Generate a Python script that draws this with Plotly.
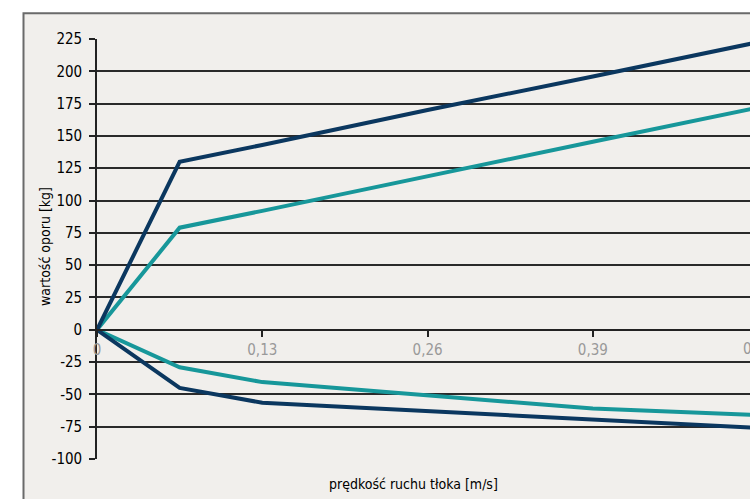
import plotly.graph_objects as go

speed = [0, 0.065, 0.13, 0.26, 0.39, 0.52]
upper_dark = [0, 130, 143, 170, 196, 222.5]
upper_teal = [0, 79, 92, 119, 145.5, 172]
lower_teal = [0, -29, -40.5, -51, -61, -66]
lower_dark = [0, -45, -56.5, -63, -69.5, -76]

x_tickvals = [0, 0.13, 0.26, 0.39]
x_ticktext = ["0", "0,13", "0,26", "0,39"]
x_last_val, x_last_text = 0.52, "0,52"
y_tickvals = list(range(-100, 226, 25))
y_ticktext = [str(v) for v in y_tickvals]

DARK = "#0b375f"
TEAL = "#17979a"
FONT = "DejaVu Sans Condensed, Liberation Sans Narrow, DejaVu Sans, sans-serif"
X_MAX = 0.5136


def fnt(size, color):
    return dict(family=FONT, size=size, color=color)


fig = go.Figure()
for ys, c in [(upper_teal, TEAL), (lower_teal, TEAL), (upper_dark, DARK), (lower_dark, DARK)]:
    fig.add_trace(go.Scatter(x=speed, y=ys, mode="lines",
                             line=dict(color=c, width=4), showlegend=False,
                             hoverinfo="skip", cliponaxis=True))

L, T, B = 97, 39.3, 40.3
H = 499 - T - B

fig.update_layout(
    width=750, height=499,
    margin=dict(l=L, r=0, t=T, b=B),
    paper_bgcolor="white",
    plot_bgcolor="rgba(0,0,0,0)",
    font=fnt(15, "black"),
    xaxis=dict(range=[0, X_MAX], tickvals=x_tickvals, ticktext=x_ticktext,
               anchor="free", position=100 / 325,
               showline=True, linecolor="#222", linewidth=1.6,
               ticks="outside", ticklen=6, tickcolor="#222", tickwidth=1.5,
               showgrid=False, zeroline=False,
               tickfont=fnt(15, "#999999")),
    yaxis=dict(range=[-100, 225], tickvals=y_tickvals, ticktext=y_ticktext,
               showline=True, linecolor="#222", linewidth=1.6,
               ticks="outside", ticklen=6, tickcolor="#222", tickwidth=1.5,
               showgrid=True, gridcolor="#2a2a2a", gridwidth=1.6,
               zeroline=False, ticklabelstandoff=4,
               tickfont=fnt(15, "black")),
    shapes=[dict(type="rect", xref="paper", yref="paper",
                 x0=(23.5 - L) / 653, x1=1.2,
                 y0=-0.2, y1=(499 - B - 13.5) / H,
                 fillcolor="#f1efec", line=dict(color="#6a6a6a", width=2),
                 layer="below")],
    annotations=[
        dict(x=x_last_val / X_MAX, y=100 / 325, xref="paper", yref="paper",
             text=x_last_text, showarrow=False, xanchor="center", yanchor="top",
             yshift=-8, font=fnt(15, "#999999")),
        dict(x=(413 - L) / 653, y=(499 - B - 484) / H, xref="paper", yref="paper",
             text="prędkość ruchu tłoka [m/s]", showarrow=False,
             xanchor="center", yanchor="middle",
             font=fnt(14, "black")),
        dict(x=(45 - L) / 653, y=(499 - B - 247) / H, xref="paper", yref="paper",
             text="wartość oporu [kg]", showarrow=False, textangle=-90,
             xanchor="center", yanchor="middle",
             font=fnt(14, "black")),
    ],
)

fig.write_html("out.html", config={"displayModeBar": False},
               post_script="document.body.style.margin='0';document.body.style.overflow='hidden';")
